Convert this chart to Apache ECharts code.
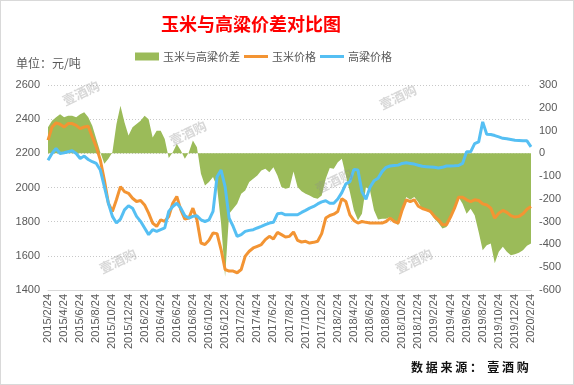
<!DOCTYPE html>
<html><head><meta charset="utf-8">
<script src="https://cdn.jsdelivr.net/npm/echarts@6/dist/echarts.min.js"></script>
<style>
html,body{margin:0;padding:0;background:#fff;}
#c{width:572px;height:383px;border:1px solid #d9d9d9;}
</style></head>
<body><div id="c"></div>
<script>
var dates = [
"2015/2/24","2015/3/9","2015/3/24","2015/4/9","2015/4/24","2015/5/9","2015/5/24","2015/6/9","2015/6/24","2015/7/9","2015/7/24","2015/8/9","2015/8/24","2015/9/9","2015/9/24","2015/10/9","2015/10/24","2015/11/9","2015/11/24","2015/12/9","2015/12/24",
"2016/1/9","2016/1/24","2016/2/9","2016/2/24","2016/3/9","2016/3/24","2016/4/9","2016/4/24","2016/5/9","2016/5/24","2016/6/9","2016/6/24","2016/7/9","2016/7/24","2016/8/9","2016/8/24","2016/9/9","2016/9/24","2016/10/9","2016/10/24","2016/11/9","2016/11/24","2016/12/9","2016/12/24",
"2017/1/9","2017/1/24","2017/2/9","2017/2/24","2017/3/9","2017/3/24","2017/4/9","2017/4/24","2017/5/9","2017/5/24","2017/6/9","2017/6/24","2017/7/9","2017/7/24","2017/8/9","2017/8/24","2017/9/9","2017/9/24","2017/10/9","2017/10/24","2017/11/9","2017/11/24","2017/12/9","2017/12/24",
"2018/1/9","2018/1/24","2018/2/9","2018/2/24","2018/3/9","2018/3/24","2018/4/9","2018/4/24","2018/5/9","2018/5/24","2018/6/9","2018/6/24","2018/7/9","2018/7/24","2018/8/9","2018/8/24","2018/9/9","2018/9/24","2018/10/9","2018/10/24","2018/11/9","2018/11/24","2018/12/9","2018/12/24",
"2019/1/9","2019/1/24","2019/2/9","2019/2/24","2019/3/9","2019/3/24","2019/4/9","2019/4/24","2019/5/9","2019/5/24","2019/6/9","2019/6/24","2019/7/9","2019/7/24","2019/8/9","2019/8/24","2019/9/9","2019/9/24","2019/10/9","2019/10/24","2019/11/9","2019/11/24","2019/12/9","2019/12/24",
"2020/1/9","2020/1/24","2020/2/9","2020/2/24"
];
var corn = [
2277,2354,2378,2370,2354,2374,2374,2364,2345,2354,2358,2296,2238,2160,2044,1908,1860,1928,2005,1976,
1966,1937,1918,1924,1898,1850,1792,1772,1811,1802,1830,1908,1947,1869,1815,1821,1879,1811,1675,1666,
1691,1734,1730,1637,1520,1511,1511,1501,1520,1598,1627,1646,1656,1666,1695,1714,1699,1737,1724,1710,
1714,1740,1691,1681,1685,1675,1679,1685,1730,1821,1836,1844,1860,1935,1918,1840,1807,1792,1801,1796,
1792,1792,1792,1792,1801,1821,1801,1792,1869,1928,1918,1928,1890,1877,1869,1860,1831,1811,1782,1782,
1827,1879,1943,1943,1928,1918,1928,1924,1904,1898,1879,1821,1850,1866,1854,1835,1827,1831,1846,1873,
1889
];
var sorghum = [
2160,2199,2228,2199,2203,2209,2215,2199,2170,2184,2164,2151,2141,2102,2005,1908,1831,1792,1815,1869,
1893,1879,1831,1802,1763,1724,1753,1743,1753,1763,1860,1889,1908,1879,1835,1821,1831,1835,1811,1801,
1811,1860,2063,2102,2005,1821,1772,1714,1724,1743,1749,1753,1763,1772,1782,1792,1796,1846,1850,1840,
1840,1840,1840,1854,1866,1879,1889,1904,1916,1922,1908,1908,1933,1970,2021,2034,2106,2102,1976,1931,
2001,2040,2054,2093,2118,2126,2129,2131,2141,2145,2141,2137,2130,2124,2122,2120,2118,2114,2118,2126,
2126,2127,2129,2141,2209,2209,2257,2267,2384,2312,2310,2304,2296,2288,2285,2281,2277,2275,2273,2273,
2238
];
var spread = [
114,143,158,172,158,165,165,158,172,180,158,121,63,5,-46,-24,5,128,209,136,
78,114,129,143,165,150,70,99,99,63,-20,5,41,12,-24,5,56,27,-90,-141,
-126,-104,-148,-308,-542,-265,-243,-221,-177,-163,-126,-112,-97,-75,-68,-83,-61,-97,-148,-155,
-151,-80,-148,-167,-177,-185,-195,-199,-185,-112,-64,-68,-39,-24,-97,-170,-250,-294,-265,-148,
-163,-250,-291,-287,-287,-279,-294,-316,-258,-192,-204,-192,-215,-247,-250,-262,-287,-306,-330,-323,
-287,-236,-192,-221,-265,-243,-272,-345,-425,-403,-396,-483,-432,-410,-432,-447,-443,-436,-425,-406,
-396
];
var names = ["玉米与高粱价差","玉米价格","高粱价格"];

var chart = echarts.init(document.getElementById('c'), null, {renderer:'canvas'});
var wmStyle = {fill:'rgba(140,140,140,0.35)', font:'bold 13px "Noto Sans CJK SC"'};
function wm(x,y){return {type:'text', x:x, y:y, rotation:Math.PI/7, style:Object.assign({text:'壹酒购', align:'center', verticalAlign:'middle'}, wmStyle), z:100};}
var lineIcon = 'path://M0,0L24,0L24,3L0,3Z';
chart.setOption({
  animation:false,
  title:{text:'玉米与高粱价差对比图', left:245, textAlign:'center', top:9,
    textStyle:{color:'#ff0000', fontSize:18, fontWeight:'bold', fontFamily:'"Noto Sans CJK SC"'}},
  legend:{left:129, top:45, itemWidth:24, itemHeight:8, itemGap:4,
    textStyle:{color:'#595959', fontSize:11, fontFamily:'"Noto Sans CJK SC"', padding:[0,0,0,-1]},
    data:[{name:names[0], icon:'rect'}, {name:names[1], icon:lineIcon}, {name:names[2], icon:lineIcon}]},
  grid:{left:47, right:42, top:84, bottom:94, containLabel:false},
  xAxis:{type:'category', data:dates, boundaryGap:false,
    axisLine:{onZero:false, lineStyle:{color:'#d9d9d9', width:1}},
    axisTick:{show:false},
    axisLabel:{interval:3, rotate:90, color:'#595959', fontSize:11, margin:4, fontFamily:'"Liberation Sans"'}},
  yAxis:[
    {type:'value', min:1400, max:2600, interval:200, position:'left',
     axisLine:{show:false}, axisTick:{show:false},
     axisLabel:{color:'#595959', fontSize:11, margin:8, fontFamily:'"Liberation Sans"', formatter:function(v){return String(v);}},
     splitLine:{lineStyle:{color:'#c8c8c8', type:[1,2]}}},
    {type:'value', min:-600, max:300, interval:100, position:'right',
     axisLine:{show:false}, axisTick:{show:false},
     axisLabel:{color:'#595959', fontSize:11, margin:8, fontFamily:'"Liberation Sans"', formatter:function(v){return String(v);}},
     splitLine:{show:false}}
  ],
  series:[
    {name:names[0], type:'line', yAxisIndex:1, data:spread, symbol:'none',
     color:'#9bbb59', lineStyle:{width:0}, areaStyle:{color:'#9bbb59', opacity:1}, z:1},
    {name:names[1], type:'line', yAxisIndex:0, data:corn, symbol:'none',
     color:'#f39433', lineStyle:{width:3, color:'#f39433'}, z:3},
    {name:names[2], type:'line', yAxisIndex:0, data:sorghum, symbol:'none',
     color:'#55bff3', lineStyle:{width:3, color:'#55bff3'}, z:4}
  ],
  graphic:[
    {type:'text', left:15, top:56, style:{text:'单位：元/吨', fill:'#595959', font:'12px "Noto Sans CJK SC"'}},
    {type:'text', left:410, top:360, style:{text:'数 据 来 源 ：  壹 酒 购', fill:'#111', font:'bold 12px "Noto Sans CJK SC"'}},
    wm(80,92), wm(187,132), wm(117,260), wm(333,180), wm(397,96), wm(413,260)
  ]
});
</script></body></html>
